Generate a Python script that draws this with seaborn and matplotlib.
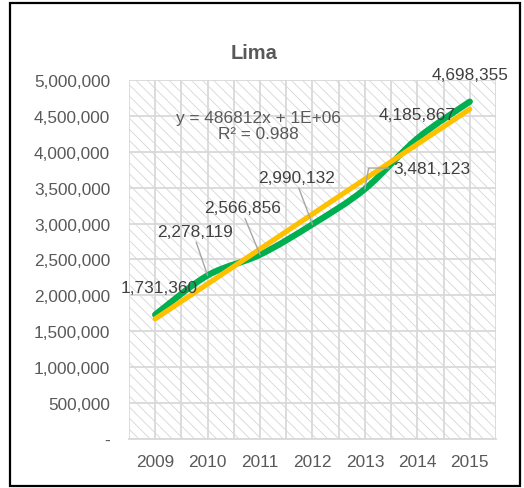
import matplotlib
matplotlib.use("Agg")
import matplotlib.pyplot as plt
import numpy as np
import pandas as pd
import seaborn as sns
from matplotlib.patches import Rectangle, PathPatch
from matplotlib.path import Path
from matplotlib.ticker import FuncFormatter, MultipleLocator


years = ["2009", "2010", "2011", "2012", "2013", "2014", "2015"]
population = [1731360, 2278119, 2566856, 2990132, 3481123, 4185867, 4698355]
title = "Lima"

GREEN = "#00B050"
YELLOW = "#FFC000"
TEXT = "#595959"
LABEL = "#404040"
GRID = "#d9d9d9"


def smooth_path(x, y):
    # excel-like smoothed line: cubic bezier through every point
    pts = np.column_stack([x, y]).astype(float)
    ext = np.vstack([pts[0], pts, pts[-1]])
    verts = [pts[0]]
    codes = [Path.MOVETO]
    for i in range(len(pts) - 1):
        p0, p1, p2, p3 = ext[i], ext[i + 1], ext[i + 2], ext[i + 3]
        verts += [p1 + (p2 - p0) / 6, p2 - (p3 - p1) / 6, p2]
        codes += [Path.CURVE4] * 3
    return Path(verts, codes)


def main() -> None:
    sns.set_theme(style="white")
    plt.rcParams["font.family"] = ["Liberation Sans", "DejaVu Sans"]
    plt.rcParams["hatch.linewidth"] = 0.6

    df = pd.DataFrame({"year": years, "population": population})
    df["x"] = np.arange(len(df))

    # linear trend as excel computes it (x = 1..n)
    slope, intercept = np.polyfit(df["x"] + 1, df["population"], 1)
    df["trend"] = slope * (df["x"] + 1) + intercept
    y_mean = df["population"].mean()
    r2 = 1 - ((df["population"] - df["trend"]) ** 2).sum() / ((df["population"] - y_mean) ** 2).sum()

    fig = plt.figure(figsize=(5.24, 4.89), dpi=100)
    ax = fig.add_axes([0.246, 0.1002, 0.7006, 0.7342])

    ax.add_patch(Rectangle((0, 0), 1, 1, transform=ax.transAxes, facecolor="white",
                           edgecolor="#d6d6d6", hatch="\\\\\\", lw=0, zorder=0))

    ax.add_patch(PathPatch(smooth_path(df["x"], df["population"]), fill=False,
                           edgecolor=GREEN, lw=4.5, capstyle="round", zorder=3))
    sns.lineplot(data=df, x="x", y="trend", color=YELLOW, lw=3.7, ax=ax, zorder=4,
                 solid_capstyle="round")

    ax.set_xlim(-0.5, len(years) - 0.5)
    ax.set_ylim(0, 5000000)
    ax.set_xticks(df["x"])
    ax.set_xticklabels(years)
    ax.xaxis.set_minor_locator(MultipleLocator(0.5))
    ax.yaxis.set_major_locator(MultipleLocator(500000))
    ax.yaxis.set_major_formatter(FuncFormatter(lambda v, p: "-" if v == 0 else f"{v:,.0f}"))
    ax.set_axisbelow(True)
    ax.grid(True, which="both", axis="x", color=GRID, lw=1.3)
    ax.grid(True, which="major", axis="y", color=GRID, lw=1.3)
    ax.tick_params(axis="both", which="both", length=0, colors=TEXT, labelsize=12.4)
    ax.tick_params(axis="y", pad=13.5)
    ax.tick_params(axis="x", pad=11)
    ax.set_xlabel("")
    ax.set_ylabel("")
    for side in ["top", "right", "left"]:
        ax.spines[side].set_visible(False)
    ax.spines["bottom"].set_color(GRID)
    ax.spines["bottom"].set_linewidth(1.3)

    # data labels (offsets in pixels from the point)
    offsets = [(4, 27), (-13, 44), (-17, 47), (-15.5, 47), (67, 21), (0, 23.5), (0, 27)]
    leaders = [None, "line", "line", "line", "elbow", None, None]
    for (xo, yo), kind, xv, yv in zip(offsets, leaders, df["x"], df["population"]):
        props = None
        if kind == "line":
            props = dict(arrowstyle="-", color="#a6a6a6", lw=1, relpos=(0.5, 0.1),
                         shrinkA=0, shrinkB=0)
        elif kind == "elbow":
            props = dict(arrowstyle="-", color="#a6a6a6", lw=1, relpos=(0, 0.5),
                         shrinkA=1, shrinkB=0,
                         connectionstyle="angle,angleA=180,angleB=80,rad=0")
        ax.annotate(f"{yv:,.0f}", xy=(xv, yv), xytext=(xo, yo), textcoords="offset pixels",
                    ha="center", va="center", fontsize=12.4, color=LABEL, zorder=6,
                    arrowprops=props)

    intercept_txt = f"{intercept:.0E}"
    ax.text(0.3515, 0.873, f"y = {slope:.0f}x + {intercept_txt}\nR² = {r2:.3f}",
            transform=ax.transAxes, ha="center", va="center", multialignment="center",
            fontsize=12.4, color=TEXT, linespacing=1.15, zorder=6)

    fig.text(0.485, 0.8896, title, ha="center", va="center", fontsize=14.5,
             fontweight="bold", color=TEXT)

    fig.patches.append(Rectangle((10 / 524, 2 / 489), 510 / 524, 483 / 489,
                                 transform=fig.transFigure, fill=False,
                                 edgecolor="black", lw=1.6))

    fig.savefig("out.png", dpi=100)
    plt.close(fig)


if __name__ == "__main__":
    main()
